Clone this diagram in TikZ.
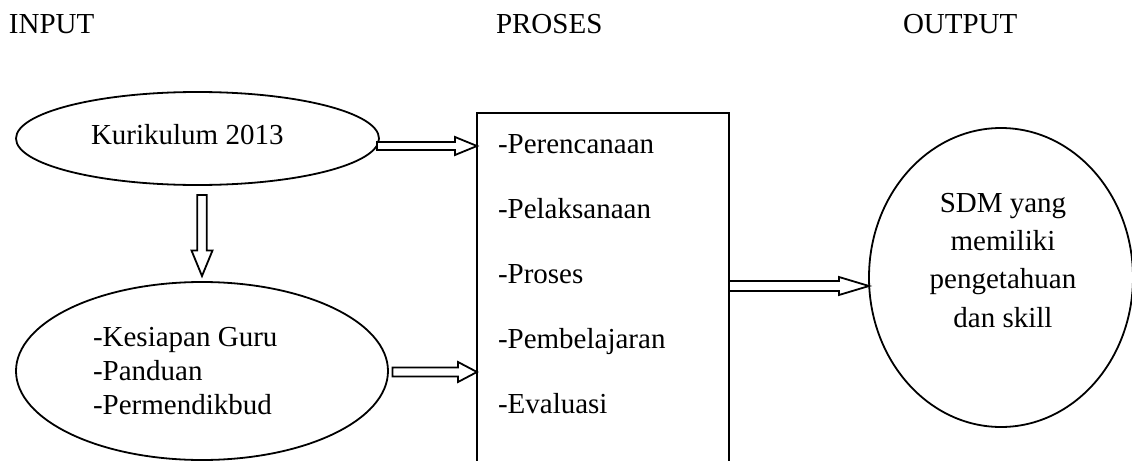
\documentclass[tikz,border=0pt]{standalone}
\usepackage{fontspec}
\setmainfont{Liberation Serif}
\usetikzlibrary{shapes.geometric,calc}

\tikzset{
  txt/.style={inner sep=0pt, outer sep=0pt, font=\fontsize{14.5}{17}\selectfont},
  shapeline/.style={draw=black, line width=0.9pt},
  oval/.style={shapeline, ellipse, inner sep=0pt, outer sep=0pt},
  blockarr/.style={draw=black, fill=white, line width=0.9pt, line join=miter},
}

% hollow block arrow pointing right: start, tip, shaft half width, head half width, head length
\newcommand\blockright[5]{%
  \path[blockarr] ($(#1)+(0,-#3)$) -- ($(#2)+(-#5,-#3)$) -- ($(#2)+(-#5,-#4)$) -- (#2)
    -- ($(#2)+(-#5,#4)$) -- ($(#2)+(-#5,#3)$) -- ($(#1)+(0,#3)$) -- cycle;}
% hollow block arrow pointing down (y grows downwards)
\newcommand\blockdown[5]{%
  \path[blockarr] ($(#1)+(-#3,0)$) -- ($(#2)+(-#3,-#5)$) -- ($(#2)+(-#4,-#5)$) -- (#2)
    -- ($(#2)+(#4,-#5)$) -- ($(#2)+(#3,-#5)$) -- ($(#1)+(#3,0)$) -- cycle;}

\begin{document}
\begin{tikzpicture}[x=0.5pt, y=-0.5pt]
\useasboundingbox (0,0) rectangle (1132,461);
\clip (0,0) rectangle (1132,461);

% column headings
\node[txt, anchor=base west] (hin)  at (9,33)   {INPUT};
\node[txt, anchor=base west] (hpro) at (496,33) {PROSES};
\node[txt, anchor=base west] (hout) at (903,33) {OUTPUT};

% input ellipses
\node[oval, minimum width=181.5pt, minimum height=46.5pt] (kur) at (197.5,138.5) {};
\node[txt, anchor=base west] (kurtxt) at (91,144) {Kurikulum 2013};

\node[oval, minimum width=186pt, minimum height=89pt] (guru) at (202,371) {};
\node[txt, anchor=base west] (g1) at (93,346) {-Kesiapan Guru};
\node[txt, anchor=base west] (g2) at (93,380) {-Panduan};
\node[txt, anchor=base west] (g3) at (93,414) {-Permendikbud};

% process box (runs past the lower edge)
\node[shapeline, rectangle, anchor=north west, inner sep=0pt, outer sep=0pt,
      minimum width=126pt, minimum height=190pt] (proc) at (477,113) {};
\node[txt, anchor=base west] (p1) at (498,153) {-Perencanaan};
\node[txt, anchor=base west] (p2) at (498,218) {-Pelaksanaan};
\node[txt, anchor=base west] (p3) at (498,283) {-Proses};
\node[txt, anchor=base west] (p4) at (498,348) {-Pembelajaran};
\node[txt, anchor=base west] (p5) at (498,413) {-Evaluasi};

% output ellipse
\node[oval, minimum width=132pt, minimum height=149.5pt] (out) at (1001,277.5) {};
\node[txt, anchor=base] (o1) at (1003,212) {SDM yang};
\node[txt, anchor=base] (o2) at (1003,250) {memiliki};
\node[txt, anchor=base] (o3) at (1003,288) {pengetahuan};
\node[txt, anchor=base] (o4) at (1003,327) {dan skill};

% arrow end points
\coordinate (a1s) at (377,146);
\coordinate (a1e) at (proc.west |- a1s);
\coordinate (a2s) at (202,195);
\coordinate (a2e) at (202,276);
\coordinate (a3s) at (392.5,372);
\coordinate (a3e) at (proc.west |- a3s);
\coordinate (a4s) at (proc.east |- 0,286);
\coordinate (a4e) at (out.west |- a4s);

\blockright{a1s}{a1e}{4}{9}{22}
\blockdown{a2s}{a2e}{4.7}{10.5}{25.5}
\blockright{a3s}{a3e}{4.5}{10}{19}
\blockright{a4s}{a4e}{5}{9}{30}
\end{tikzpicture}
\end{document}
